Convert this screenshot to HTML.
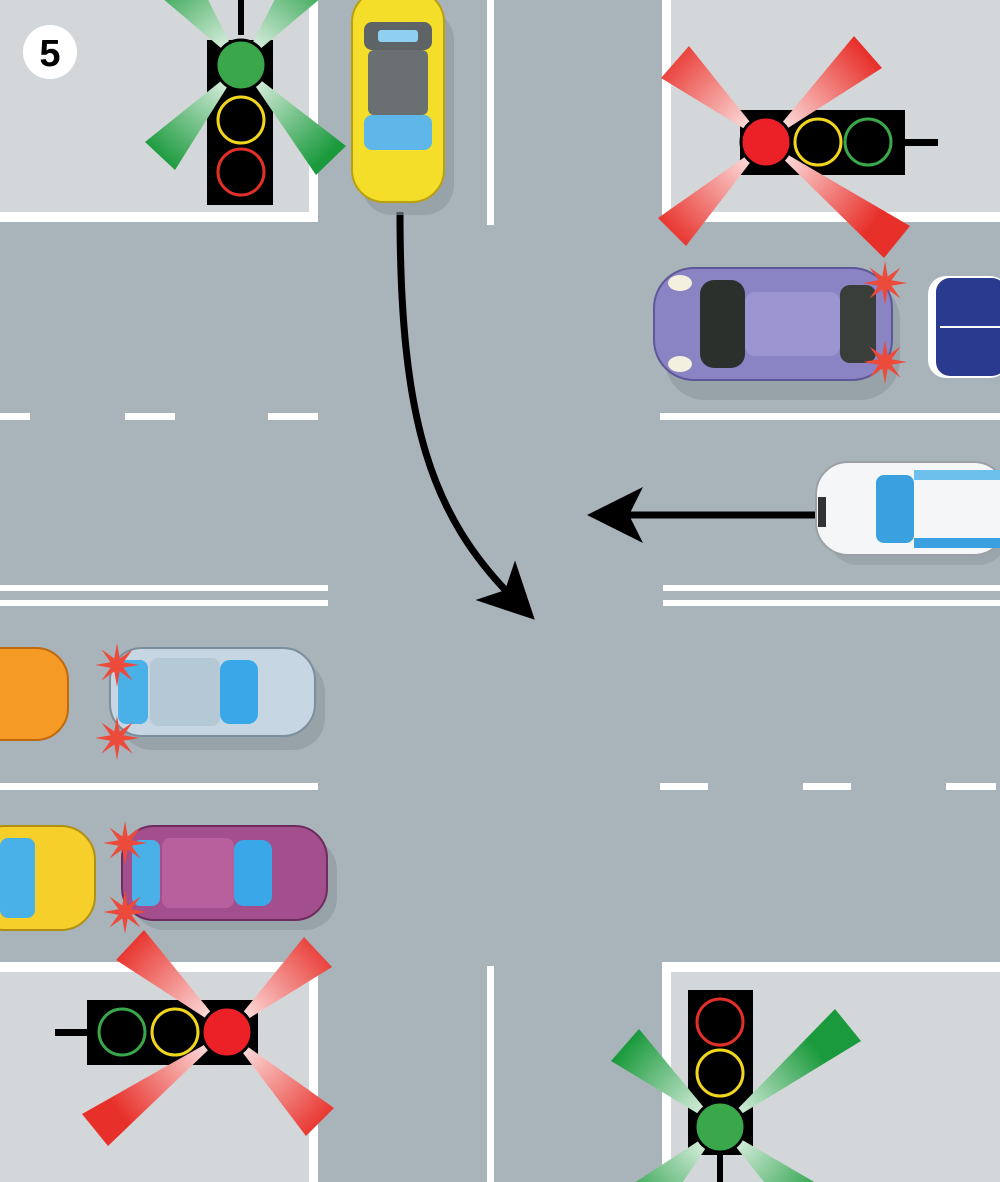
<!DOCTYPE html>
<html><head><meta charset="utf-8"><style>html,body{margin:0;padding:0;background:#a9b3ba}svg{display:block}</style></head>
<body>
<svg width="1000" height="1182" viewBox="0 0 1000 1182" xmlns="http://www.w3.org/2000/svg">
<defs>
<marker id="ah" markerWidth="8" markerHeight="8" refX="4" refY="4" orient="auto" markerUnits="strokeWidth"><path d="M0,0 L8,4 L0,8 L2,4 Z" fill="#000"/></marker>
<radialGradient id="gTL" gradientUnits="userSpaceOnUse" cx="241" cy="65" r="125"><stop offset="0" stop-color="#fff"/><stop offset="1" stop-color="#1a9a3c"/></radialGradient>
<radialGradient id="gBR" gradientUnits="userSpaceOnUse" cx="720" cy="1127" r="125"><stop offset="0" stop-color="#fff"/><stop offset="1" stop-color="#1a9a3c"/></radialGradient>
<radialGradient id="gTR" gradientUnits="userSpaceOnUse" cx="766" cy="142" r="135"><stop offset="0" stop-color="#fff"/><stop offset="1" stop-color="#e8302a"/></radialGradient>
<radialGradient id="gBL" gradientUnits="userSpaceOnUse" cx="227" cy="1032" r="135"><stop offset="0" stop-color="#fff"/><stop offset="1" stop-color="#e8302a"/></radialGradient>
<polygon id="star" points="22,0 6.5,2.7 15.6,15.6 2.7,6.5 0,22 -2.7,6.5 -15.6,15.6 -6.5,2.7 -22,0 -6.5,-2.7 -15.6,-15.6 -2.7,-6.5 0,-22 2.7,-6.5 15.6,-15.6 6.5,-2.7" fill="#ec4a3a"/>
</defs>
<rect width="1000" height="1182" fill="#a9b3ba"/>
<rect x="0" y="0" width="318" height="222" fill="#fff"/><rect x="0" y="0" width="309" height="212" fill="#d4d7da"/>
<rect x="662" y="0" width="338" height="222" fill="#fff"/><rect x="671" y="0" width="329" height="212" fill="#d4d7da"/>
<rect x="0" y="962" width="318" height="220" fill="#fff"/><rect x="0" y="972" width="309" height="210" fill="#d4d7da"/>
<rect x="662" y="962" width="338" height="220" fill="#fff"/><rect x="671" y="972" width="329" height="210" fill="#d4d7da"/>
<rect x="487" y="0" width="7" height="225" fill="#fff"/>
<rect x="487" y="966" width="7" height="216" fill="#fff"/>
<g fill="#fff">
<rect x="0" y="413" width="30" height="7"/><rect x="125" y="413" width="50" height="7"/><rect x="268" y="413" width="50" height="7"/>
<rect x="660" y="413" width="340" height="7"/>
<rect x="0" y="585" width="328" height="6"/><rect x="0" y="600" width="328" height="6"/>
<rect x="663" y="585" width="337" height="6"/><rect x="663" y="600" width="337" height="6"/>
<rect x="0" y="783" width="318" height="7"/>
<rect x="660" y="783" width="48" height="7"/><rect x="803" y="783" width="48" height="7"/><rect x="946" y="783" width="50" height="7"/>
</g>
<circle cx="50" cy="52" r="27" fill="#fff"/>
<text x="50" y="66" text-anchor="middle" font-family="Liberation Sans, sans-serif" font-weight="bold" font-size="38" fill="#000">5</text>

<!-- TL light -->
<rect x="238" y="0" width="6" height="35" fill="#000"/>
<rect x="207" y="40" width="66" height="165" fill="#000"/>
<g fill="url(#gTL)">
<polygon points="241,65 175,170 145,142"/><polygon points="241,65 346,146 316,175"/>
<polygon points="241,65 194,-28 162,-2"/><polygon points="241,65 321,-2 289,-28"/>
</g>
<circle cx="241" cy="65" r="25" fill="#3aa84a" stroke="#000" stroke-width="3"/>
<circle cx="241" cy="120" r="23" fill="#000" stroke="#f1d61c" stroke-width="3"/>
<circle cx="241" cy="172" r="23" fill="#000" stroke="#e03028" stroke-width="3"/>

<!-- TR light -->
<rect x="900" y="139" width="38" height="7" fill="#000"/>
<rect x="740" y="110" width="165" height="65" fill="#000"/>
<g fill="url(#gTR)">
<polygon points="766,142 689,46 661,78"/><polygon points="766,142 882,68 854,36"/>
<polygon points="766,142 686,246 658,218"/><polygon points="766,142 884,258 910,226"/>
</g>
<circle cx="766" cy="142" r="25" fill="#ec2027" stroke="#000" stroke-width="3"/>
<circle cx="818" cy="142" r="23" fill="#000" stroke="#f1d61c" stroke-width="3"/>
<circle cx="868" cy="142" r="23" fill="#000" stroke="#3aa84a" stroke-width="3"/>

<!-- BL light -->
<rect x="55" y="1029" width="35" height="7" fill="#000"/>
<rect x="87" y="1000" width="171" height="65" fill="#000"/>
<g fill="url(#gBL)">
<polygon points="227,1032 144,930 116,960"/><polygon points="227,1032 332,967 304,937"/>
<polygon points="227,1032 108,1146 82,1114"/><polygon points="227,1032 334,1108 306,1136"/>
</g>
<circle cx="122" cy="1032" r="23" fill="#000" stroke="#3aa84a" stroke-width="3"/>
<circle cx="175" cy="1032" r="23" fill="#000" stroke="#f1d61c" stroke-width="3"/>
<circle cx="227" cy="1032" r="25" fill="#ec2027" stroke="#000" stroke-width="3"/>

<!-- BR light -->
<rect x="688" y="990" width="65" height="165" fill="#000"/>
<rect x="717" y="1155" width="6" height="27" fill="#000"/>
<g fill="url(#gBR)">
<polygon points="720,1127 639,1029 611,1061"/><polygon points="720,1127 861,1041 835,1009"/>
<polygon points="720,1127 634,1183 666,1207"/><polygon points="720,1127 784,1207 816,1183"/>
</g>
<circle cx="720" cy="1022" r="23" fill="#000" stroke="#e03028" stroke-width="3"/>
<circle cx="720" cy="1073" r="23" fill="#000" stroke="#f1d61c" stroke-width="3"/>
<circle cx="720" cy="1127" r="25" fill="#3aa84a" stroke="#000" stroke-width="3"/>

<!-- arrows -->
<path d="M400,212 C400,420 430,515 515,600" stroke="#000" stroke-width="7" fill="none" marker-end="url(#ah)"/>
<path d="M815,515 L615,515" stroke="#000" stroke-width="7" fill="none" marker-end="url(#ah)"/>

<!-- yellow top car -->
<rect x="362" y="10" width="92" height="205" rx="30" fill="#8e979e" opacity="0.6"/>
<rect x="352" y="-10" width="92" height="212" rx="32" fill="#f4de2a" stroke="#b8a010" stroke-width="2"/>
<rect x="364" y="22" width="68" height="28" rx="8" fill="#5e6366"/>
<rect x="368" y="50" width="60" height="65" rx="6" fill="#6a6f72"/>
<rect x="364" y="115" width="68" height="35" rx="8" fill="#5fb6e8"/>
<rect x="378" y="30" width="40" height="12" rx="3" fill="#8fd0f0"/>

<!-- purple car -->
<rect x="665" y="280" width="235" height="120" rx="40" fill="#8e979e" opacity="0.6"/>
<rect x="654" y="268" width="238" height="112" rx="40" fill="#8a83c4" stroke="#5d5797" stroke-width="2"/>
<rect x="700" y="280" width="45" height="88" rx="14" fill="#2c302c"/>
<rect x="745" y="292" width="95" height="64" rx="10" fill="#9c95d2"/>
<rect x="840" y="285" width="36" height="78" rx="10" fill="#3a3e3a"/>
<ellipse cx="680" cy="283" rx="12" ry="8" fill="#f4f0e0"/><ellipse cx="680" cy="364" rx="12" ry="8" fill="#f4f0e0"/>
<rect x="928" y="276" width="80" height="102" rx="18" fill="#fff"/>
<rect x="936" y="278" width="70" height="98" rx="14" fill="#2a3a8e"/>
<path d="M940,327 L1000,327" stroke="#fff" stroke-width="2"/>
<!-- white car -->
<rect x="828" y="470" width="180" height="95" rx="30" fill="#8e979e" opacity="0.5"/>
<rect x="816" y="462" width="190" height="93" rx="32" fill="#f4f6f8" stroke="#9aa0a6" stroke-width="2"/>
<rect x="876" y="475" width="38" height="68" rx="8" fill="#3aa0e0"/>
<rect x="914" y="470" width="90" height="10" fill="#6ec0ec"/><rect x="914" y="538" width="90" height="10" fill="#3aa0e0"/>
<rect x="818" y="497" width="8" height="30" fill="#333"/>

<rect x="-40" y="648" width="108" height="92" rx="32" fill="#f59a24" stroke="#c06a10" stroke-width="2"/>
<rect x="120" y="660" width="205" height="90" rx="32" fill="#8e979e" opacity="0.6"/>
<rect x="110" y="648" width="205" height="88" rx="32" fill="#c6d6e2" stroke="#7a8e9c" stroke-width="2"/>
<rect x="118" y="660" width="30" height="64" rx="8" fill="#4ab0e8"/>
<rect x="150" y="658" width="70" height="68" rx="8" fill="#b4c8d6"/>
<rect x="220" y="660" width="38" height="64" rx="10" fill="#3aa8e8"/>

<rect x="-30" y="826" width="125" height="104" rx="34" fill="#f6cf2a" stroke="#b09010" stroke-width="2"/>
<rect x="0" y="838" width="35" height="80" rx="8" fill="#4ab0e8"/>
<rect x="132" y="838" width="205" height="92" rx="32" fill="#8e979e" opacity="0.6"/>
<rect x="122" y="826" width="205" height="94" rx="32" fill="#a34f8e" stroke="#6e2c5e" stroke-width="2"/>
<rect x="132" y="840" width="28" height="66" rx="8" fill="#4ab0e8"/>
<rect x="162" y="838" width="72" height="70" rx="8" fill="#b8609e"/>
<rect x="234" y="840" width="38" height="66" rx="10" fill="#3aa8e8"/>

<use href="#star" x="885" y="283"/><use href="#star" x="885" y="362"/>
<use href="#star" x="117" y="665"/><use href="#star" x="117" y="738"/>
<use href="#star" x="125" y="843"/><use href="#star" x="125" y="912"/>
</svg>
</body></html>
